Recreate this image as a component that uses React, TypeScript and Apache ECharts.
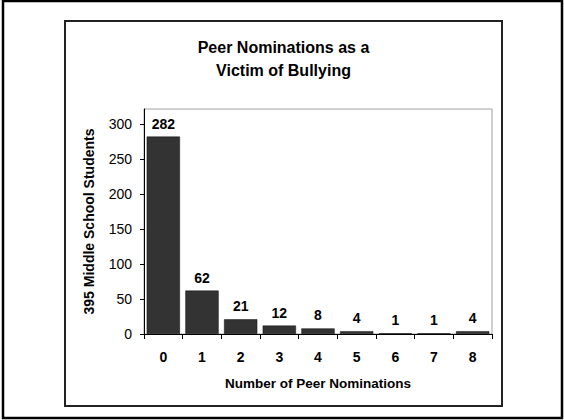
import React, { useEffect, useRef } from "react";
import * as echarts from "echarts";

const categories = ["0", "1", "2", "3", "4", "5", "6", "7", "8"];
const counts = [282, 62, 21, 12, 8, 4, 1, 1, 4];
const yTicks = [0, 50, 100, 150, 200, 250, 300];
const titleLines = ["Peer Nominations as a", "Victim of Bullying"];

const FONT = "'Liberation Sans', Arial, Helvetica, sans-serif";

export default function App() {
  const ref = useRef<HTMLDivElement>(null);
  useEffect(() => {
    if (!ref.current) return;
    const chart = echarts.init(ref.current, undefined, { renderer: "svg" });
    chart.setOption({
      animation: false,
      backgroundColor: "#ffffff",
      textStyle: { fontFamily: FONT },
      graphic: [
        {
          type: "rect",
          shape: { x: 3, y: 1, width: 559, height: 417 },
          style: { fill: "none", stroke: "#000", lineWidth: 2.5 },
          silent: true,
          z: -10,
        },
        {
          type: "rect",
          shape: { x: 65, y: 21, width: 437, height: 385 },
          style: { fill: "none", stroke: "#222", lineWidth: 2 },
          silent: true,
          z: -10,
        },
        {
          type: "text",
          x: 283.5,
          y: 47,
          style: {
            text: titleLines[0],
            fontFamily: FONT,
            fontSize: 16,
            fontWeight: "bold",
            fill: "#000",
            textAlign: "center",
            textVerticalAlign: "middle",
          },
        },
        {
          type: "text",
          x: 283.5,
          y: 70,
          style: {
            text: titleLines[1],
            fontFamily: FONT,
            fontSize: 16,
            fontWeight: "bold",
            fill: "#000",
            textAlign: "center",
            textVerticalAlign: "middle",
          },
        },
      ],
      grid: {
        left: 144,
        top: 109,
        width: 348,
        height: 225,
        show: true,
        borderColor: "#a0a0a0",
        borderWidth: 1,
        backgroundColor: "transparent",
      },
      xAxis: {
        type: "category",
        data: categories,
        axisLine: { show: true, lineStyle: { color: "#000", width: 1 } },
        axisTick: { show: true, alignWithLabel: false, length: 5, lineStyle: { color: "#000" } },
        axisLabel: {
          fontFamily: FONT,
          fontSize: 14,
          fontWeight: "bold",
          color: "#000",
          margin: 16,
        },
        name: "Number of Peer Nominations",
        nameLocation: "middle",
        nameGap: 42,
        nameTextStyle: { fontFamily: FONT, fontSize: 13.5, fontWeight: "bold", color: "#000" },
      },
      yAxis: {
        type: "value",
        min: 0,
        max: 321.4,
        interval: 50,
        axisLine: { show: true, lineStyle: { color: "#000", width: 1 } },
        axisTick: { show: true, length: 4, lineStyle: { color: "#000" }, customValues: yTicks },
        axisLabel: {
          fontFamily: FONT,
          fontSize: 14,
          color: "#000",
          margin: 12,
          customValues: yTicks,
        },
        splitLine: { show: false },
        name: "395 Middle School Students",
        nameLocation: "middle",
        nameRotate: 90,
        nameGap: 48,
        nameTextStyle: { fontFamily: FONT, fontSize: 14, fontWeight: "bold", color: "#000" },
      },
      series: [
        {
          type: "bar",
          data: counts,
          barCategoryGap: "14%",
          itemStyle: { color: "#333333", borderColor: "#111", borderWidth: 0.5 },
          label: {
            show: true,
            position: "top",
            distance: 6,
            fontFamily: FONT,
            fontSize: 14,
            fontWeight: "bold",
            color: "#000",
          },
        },
      ],
    });
    return () => chart.dispose();
  }, []);
  return (
    <div
      ref={ref}
      style={{ position: "fixed", left: 0, top: 0, width: 564, height: 420, background: "#fff" }}
    />
  );
}
